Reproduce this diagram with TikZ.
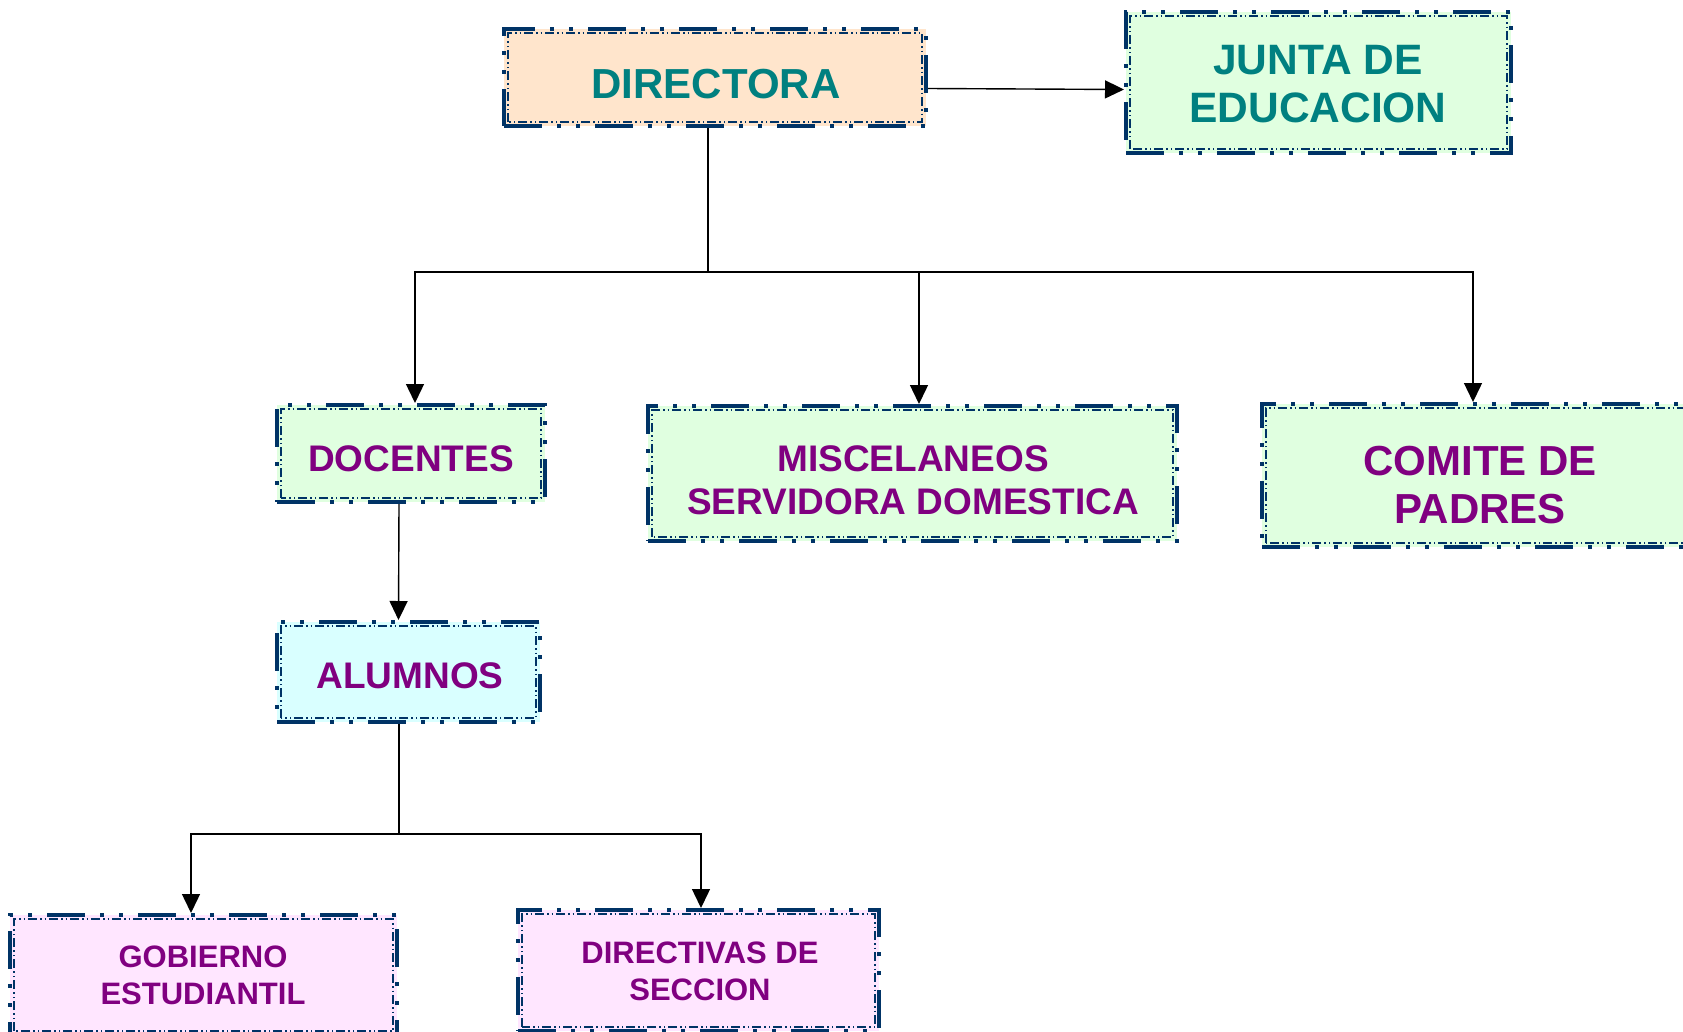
\documentclass[tikz,border=0pt]{standalone}
\usepackage{fontspec}
\setmainfont{Liberation Sans}
\usetikzlibrary{arrows.meta}
\definecolor{navy}{RGB}{0,51,102}
\definecolor{peach}{RGB}{255,229,204}
\definecolor{mint}{RGB}{224,255,224}
\definecolor{aqua}{RGB}{217,255,255}
\definecolor{pinkf}{RGB}{255,230,255}
\definecolor{tealt}{RGB}{0,128,128}
\definecolor{purp}{RGB}{128,0,128}
\tikzset{
  orgbox/.style={draw=navy, line width=4pt, inner sep=0pt,
    dash pattern=on 38pt off 15pt on 4pt off 15pt on 4pt off 15pt},
  innerline/.style={draw=navy, line width=1.2pt,
    dash pattern=on 9pt off 3pt on 1.5pt off 3pt on 1.5pt off 3pt},
  lbl/.style={font=\bfseries, align=center, inner sep=0pt},
  conn/.style={draw=black, line width=1.4pt},
  arr/.style={conn, -{Triangle[width=18pt,length=19pt]}},
}
\newcommand{\innerrect}[1]{\draw[innerline] ([xshift=6pt,yshift=6pt]#1.south west) rectangle ([xshift=-6pt,yshift=-6pt]#1.north east);}
\begin{document}
\begin{tikzpicture}[x=1pt,y=-1pt]
\useasboundingbox (0,0) rectangle (1683,1031);
% boxes
\node[orgbox, fill=peach, minimum width=422pt, minimum height=97pt] (dir) at (715,77.5) {};
\innerrect{dir}
\node[orgbox, fill=mint, minimum width=385pt, minimum height=141pt] (jun) at (1318.5,82.5) {};
\innerrect{jun}
\node[orgbox, fill=mint, minimum width=268pt, minimum height=97pt] (doc) at (411,453.5) {};
\innerrect{doc}
\node[orgbox, fill=mint, minimum width=529pt, minimum height=135pt] (mis) at (912.5,473.5) {};
\innerrect{mis}
\node[orgbox, fill=mint, minimum width=436pt, minimum height=143pt] (com) at (1480,475.5) {};
\innerrect{com}
\node[orgbox, fill=aqua, minimum width=263pt, minimum height=100pt] (alu) at (408.5,672) {};
\innerrect{alu}
\node[orgbox, fill=pinkf, minimum width=387pt, minimum height=120pt] (gob) at (203.5,975) {};
\innerrect{gob}
\node[orgbox, fill=pinkf, minimum width=361pt, minimum height=121pt] (dse) at (698.5,970.5) {};
\innerrect{dse}
% texts
\node[lbl, text=tealt, font=\fontsize{42}{48}\selectfont\bfseries] (dirT) at (716,84) {DIRECTORA};
\node[lbl, text=tealt, font=\fontsize{42.5}{48}\selectfont\bfseries] (junT) at (1318,84) {JUNTA DE\\EDUCACION};
\node[lbl, text=purp, font=\fontsize{37}{43}\selectfont\bfseries] (docT) at (411,459) {DOCENTES};
\node[lbl, text=purp, font=\fontsize{37}{43}\selectfont\bfseries] (misT) at (913,480) {MISCELANEOS\\SERVIDORA DOMESTICA};
\node[lbl, text=purp, font=\fontsize{42}{48}\selectfont\bfseries] (comT) at (1480,485) {COMITE DE\\PADRES};
\node[lbl, text=purp, font=\fontsize{37}{43}\selectfont\bfseries] (aluT) at (410,676) {ALUMNOS};
\node[lbl, text=purp, font=\fontsize{31}{37}\selectfont\bfseries] (gobT) at (203,975) {GOBIERNO\\ESTUDIANTIL};
\node[lbl, text=purp, font=\fontsize{31}{37}\selectfont\bfseries] (dseT) at (700,971) {DIRECTIVAS DE\\SECCION};
% connectors
\coordinate (j1) at (708,272);
\coordinate (j2) at (399,834);
\draw[conn] ([xshift=-7pt]dir.south) -- (j1);
\draw[arr] (j1) -| ([xshift=4pt]doc.north);
\draw[arr] (j1) -| ([xshift=6.5pt]mis.north);
\draw[arr] (j1) -| ([xshift=-7pt]com.north);
\draw[arr] ([yshift=-11pt]dir.east) -- ([yshift=-7pt]jun.west);
\draw[arr] ([xshift=-12pt]doc.south) -- ([xshift=-10pt]alu.north);
\draw[conn] ([xshift=-9.5pt]alu.south) -- (j2);
\draw[arr] (j2) -| ([xshift=-12.5pt]gob.north);
\draw[arr] (j2) -| ([xshift=2.5pt]dse.north);
\end{tikzpicture}
\end{document}
